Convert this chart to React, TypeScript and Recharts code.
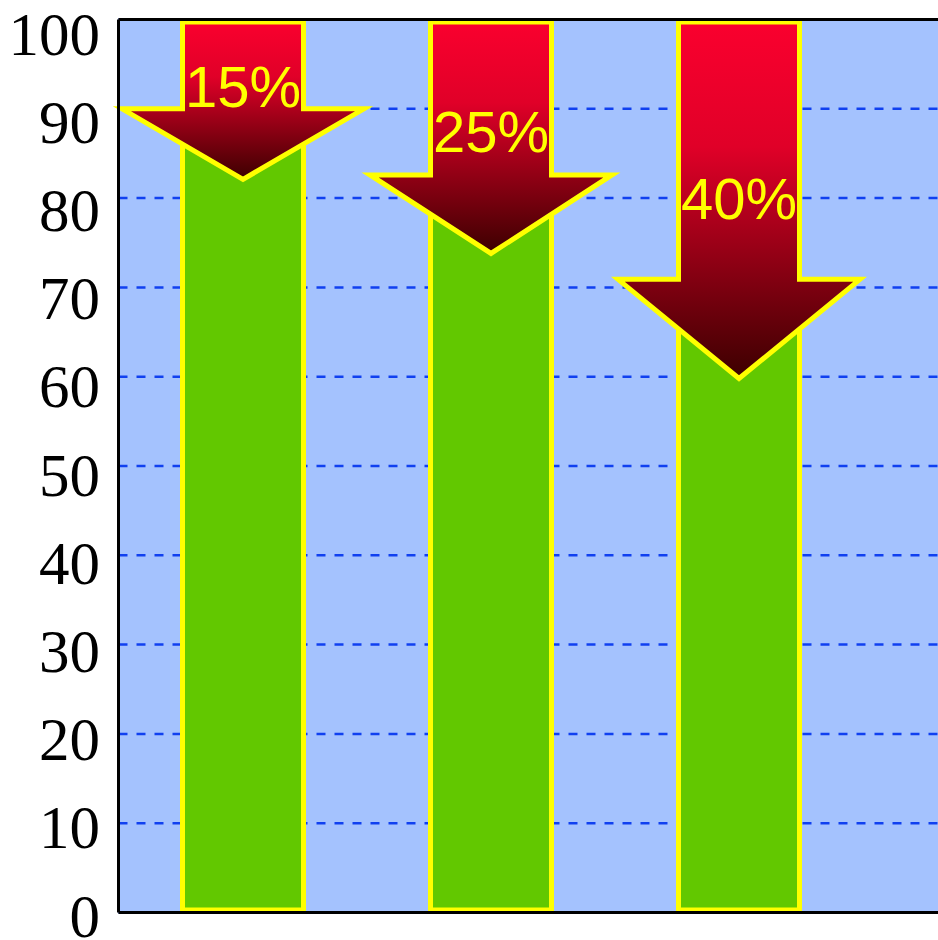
import React from 'react';
import { BarChart, Bar, XAxis, YAxis, CartesianGrid, ReferenceLine } from 'recharts';

const categories = ['A', 'B', 'C'];
const totals = [100, 100, 100];
const dropPct = [15, 25, 40];
const headTop = [90, 82.6, 70.9];
const arrowTip = [82.1, 73.8, 59.8];
const yTicks = [0, 10, 20, 30, 40, 50, 60, 70, 80, 90, 100];

const data = categories.map((cat, i) => ({
  cat,
  total: totals[i],
  arrow: [arrowTip[i], 100],
  pct: dropPct[i],
  headTop: headTop[i],
}));

const YELLOW = '#ffff00';
const SW = 5;

const GreenShape = (props: any) => {
  const { x, y, width, height } = props;
  return (
    <rect
      x={x}
      y={y + SW / 2}
      width={width}
      height={Math.max(0, height - SW)}
      fill="#62c800"
      stroke={YELLOW}
      strokeWidth={SW}
    />
  );
};

const ArrowShape = (props: any) => {
  const { x, y, width, height, payload, index } = props;
  const top = payload.arrow[1];
  const tip = payload.arrow[0];
  const k = height / (top - tip);
  const cx = x + width / 2;
  const yTop = y + SW / 2;
  const yHead = y + (top - payload.headTop) * k;
  const yTip = y + height;
  const half = 121;
  const yLabel = y + (payload.pct / 2) * k;
  const gid = `arrowGrad${index}`;
  const pts = [
    [x, yTop],
    [x + width, yTop],
    [x + width, yHead],
    [cx + half, yHead],
    [cx, yTip],
    [cx - half, yHead],
    [x, yHead],
  ]
    .map((p) => p.join(','))
    .join(' ');
  return (
    <g>
      <defs>
        <linearGradient id={gid} x1="0" y1="0" x2="0" y2="1">
          <stop offset="0" stopColor="#fa002e" />
          <stop offset="0.35" stopColor="#e00028" />
          <stop offset="1" stopColor="#3c0000" />
        </linearGradient>
      </defs>
      <polygon
        points={pts}
        fill={`url(#${gid})`}
        stroke={YELLOW}
        strokeWidth={SW}
        strokeLinejoin="miter"
        strokeMiterlimit={10}
      />
      <text
        x={cx}
        y={yLabel}
        textAnchor="middle"
        dominantBaseline="central"
        fill={YELLOW}
        fontFamily="'Liberation Sans', Arial, sans-serif"
        fontSize={58}
      >
        {`${payload.pct}%`}
      </text>
    </g>
  );
};

const YTick = (props: any) => {
  const { x, y, payload } = props;
  const shift = 3.5 + payload.value * 0.11;
  return (
    <text
      x={x}
      y={y + shift}
      textAnchor="end"
      dominantBaseline="central"
      fill="#000"
      fontFamily="'Liberation Serif', 'Times New Roman', serif"
      fontSize={61}
    >
      {payload.value}
    </text>
  );
};

export default function App() {
  return (
    <div
      style={{
        position: 'fixed',
        left: 0,
        top: 0,
        width: 938,
        height: 940,
        overflow: 'hidden',
        background: '#fff',
      }}
    >
      <BarChart
        width={938}
        height={940}
        data={data}
        margin={{ top: 19.5, right: 0, bottom: 0, left: 0 }}
      >
        <CartesianGrid
          xAxisId="a"
          vertical={false}
          stroke="#1040f0"
          strokeWidth={2.5}
          strokeDasharray="9 9"
          fill="#a4c2fe"
          fillOpacity={1}
        />
        <XAxis
          xAxisId="a"
          dataKey="cat"
          tick={false}
          tickLine={false}
          height={27.5}
          axisLine={{ stroke: '#000', strokeWidth: 3 }}
          padding={{ left: 0, right: 75.5 }}
        />
        <XAxis
          xAxisId="b"
          dataKey="cat"
          hide
          padding={{ left: 0, right: 75.5 }}
        />
        <YAxis
          width={118.5}
          domain={[0, 100]}
          ticks={yTicks}
          interval={0}
          tickLine={false}
          tickSize={0}
          tickMargin={18.5}
          tick={<YTick />}
          axisLine={{ stroke: '#000', strokeWidth: 3 }}
        />
        <Bar
          xAxisId="a"
          dataKey="total"
          barSize={121}
          shape={<GreenShape />}
          isAnimationActive={false}
        />
        <Bar
          xAxisId="b"
          dataKey="arrow"
          barSize={121}
          shape={<ArrowShape />}
          isAnimationActive={false}
        />
        <ReferenceLine xAxisId="a" y={100} stroke="#000" strokeWidth={3} />
      </BarChart>
    </div>
  );
}
